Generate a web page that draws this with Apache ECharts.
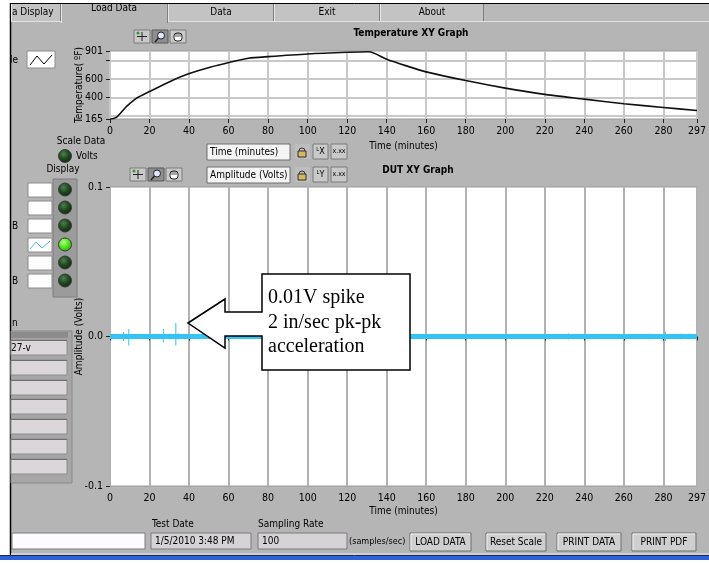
<!DOCTYPE html>
<html><head><meta charset="utf-8">
<script src="https://cdn.jsdelivr.net/npm/echarts@6/dist/echarts.min.js"></script>
<style>html,body{margin:0;padding:0;background:#fff}#c{width:709px;height:563px}</style>
</head><body><div id="c"></div>
<script>
// ---- data ----
const timeTickLabels = [0,20,40,60,80,100,120,140,160,180,200,220,240,260,280,297];
const tempTickLabels = [165,400,600,901];
const tempTickMarks = [165,400,600,800,901];
const tempGridValues = [200,400,600,800];
const ampTickLabels = [-0.1,0,0.1];

const tempTime  = [0,   3.4, 8.4, 13.5, 20,  32,  40.5, 50.6, 60.7, 70,  80,  100, 120, 131, 140, 150, 159.4, 180, 200, 219, 240, 260, 280, 297];
const tempValue = [163, 186, 301, 391,  462, 588, 660,  725,  779,  822, 840, 869, 887, 893, 812, 740, 678,   581, 499, 434, 380, 330, 290, 257];

const dutTime = [0, 297];
const dutAmp  = [0, 0];

const spikeTime = [1.6,    5.9,    6.8,    9.5,    11.7,   27,     30.4,   33.3,   34.5,   45,     232,    242,    252,    273,    281,    289,    293];
const spikeHigh = [0.0018, 0.002,  0.003,  0.005,  0.0018, 0.005,  0.002,  0.009,  0.0022, 0.0018, 0.002,  0.0018, 0.0018, 0.002,  0.0035, 0.002,  0.002];
const spikeLow  = [-0.0018,-0.002, -0.003, -0.006, -0.002, -0.004, -0.002, -0.006, -0.002, -0.0018,-0.002, -0.0018,-0.0018,-0.002, -0.003, -0.002, -0.002];

// ---- helpers ----
const FONT = '"Liberation Sans Narrow","DejaVu Sans Condensed",sans-serif';
const F10 = '10px ' + FONT;
const g = [];
function rect(x,y,w,h,fill,stroke,lw,z){ g.push({type:'rect',silent:true,z:z||0,shape:{x:x,y:y,width:w,height:h},style:{fill:fill,stroke:stroke||null,lineWidth:lw||0}}); }
function line(x1,y1,x2,y2,color,lw,z){ g.push({type:'line',silent:true,z:z||0,shape:{x1:x1,y1:y1,x2:x2,y2:y2},style:{stroke:color,lineWidth:lw||1}}); }
function text(x,y,t,opt){ opt=opt||{}; g.push({type:'text',silent:true,z:opt.z||1,x:x,y:y,style:{text:t,fill:opt.fill||'#000',font:opt.font||F10,align:opt.align||'left',verticalAlign:'middle',textAlign:opt.align||'left',textVerticalAlign:'middle'}}); }
function led(cx,cy,on){ g.push({type:'circle',silent:true,z:2,shape:{cx:cx,cy:cy,r:6.5},style:{stroke:'#3a3a3a',lineWidth:1,fill:{type:'radial',x:0.4,y:0.35,r:0.7,colorStops:on?[{offset:0,color:'#b8ff8c'},{offset:0.5,color:'#4fe81f'},{offset:1,color:'#2a9a10'}]:[{offset:0,color:'#4f7f4f'},{offset:0.5,color:'#1f4a1f'},{offset:1,color:'#0c240c'}]}}}); }
function poly(points,stroke,lw,z,fill){ g.push({type:fill?'polygon':'polyline',silent:true,z:z||1,shape:{points:points},style:{stroke:stroke,lineWidth:lw||1,fill:fill||null}}); }
function button(x,y,w,h,label){ rect(x,y,w,h,'#cfcfcf','#6e6e6e',1,1); line(x+1,y+1,x+w-1,y+1,'#f2f2f2',1,2); line(x+1,y+1,x+1,y+h-1,'#f2f2f2',1,2); text(x+w/2,y+h/2+0.5,label,{align:'center',z:3}); }
function palette(x,y){
  rect(x,y,16,13,'#c9c9c9','#7a7a7a',1,1); line(x+8,y+2,x+8,y+11,'#222',1,2); line(x+3,y+6.5,x+13,y+6.5,'#222',1,2); g.push({type:'circle',silent:true,z:3,shape:{cx:x+4,cy:y+3,r:1.5},style:{fill:'#2c9a2c'}});
  rect(x+18,y,16,13,'#8e8e8e','#5a5a5a',1,1); g.push({type:'circle',silent:true,z:3,shape:{cx:x+27,cy:y+5.5,r:3.5},style:{fill:'#dfe8ff',stroke:'#222',lineWidth:1}}); line(x+24.5,y+8,x+21,y+12,'#222',1.5,3);
  rect(x+36,y,16,13,'#c9c9c9','#7a7a7a',1,1); g.push({type:'rect',silent:true,z:3,shape:{x:x+40,y:y+3,width:8,height:8,r:3},style:{fill:'#fff',stroke:'#222',lineWidth:1}}); line(x+42,y+3,x+42,y+7,'#222',0.8,4); line(x+44,y+3,x+44,y+7,'#222',0.8,4); line(x+46,y+3,x+46,y+7,'#222',0.8,4);
}
function axisCtl(y,label){
  rect(207,y,83,16,'#f4f4f4','#6e6e6e',1,1); text(210,y+8.5,label,{z:3});
  rect(295,y,15,15,'#bdbdbd',null,0,1); g.push({type:'rect',silent:true,z:3,shape:{x:298,y:y+7,width:8,height:6},style:{fill:'#d8b85a',stroke:'#333',lineWidth:1}}); g.push({type:'arc',silent:true,z:3,shape:{cx:302,cy:y+7,r:3,startAngle:Math.PI,endAngle:2*Math.PI},style:{stroke:'#333',lineWidth:1,fill:null}});
  rect(313,y,15,15,'#c9c9c9','#7a7a7a',1,1); text(320.5,y+8,label.indexOf('Time')===0?'\u1d38X':'\u1d38Y',{align:'center',font:'9px '+FONT,z:3});
  rect(331,y,16,15,'#c9c9c9','#7a7a7a',1,1); text(339,y+7,'x.xx',{align:'center',font:'7px '+FONT,z:3});
}

// ---- frame & chrome ----
rect(0,0,709,3,'#ffffff'); line(0,3.5,709,3.5,'#000',1);
rect(0,0,10,563,'#ffffff'); line(10.5,3,10.5,555,'#000',1.5);
// tabs
rect(11,4,698,17,'#b9b9b9');
const tabs = [[11,61,'a Display'],[168,274,'Data'],[274,380,'Exit'],[380,484,'About']];
tabs.forEach(function(t){ rect(t[0],4,t[1]-t[0],17,'#c3c3c3'); line(t[0]+0.5,4,t[0]+0.5,21,'#e6e6e6',1); line(t[1]-0.5,4,t[1]-0.5,21,'#7f7f7f',1); text(t[0]===11?12:(t[0]+t[1])/2,12.5,t[2],{align:t[0]===11?'left':'center'}); });
line(11,21.5,709,21.5,'#e2e2e2',1);
rect(61,4,107,19,'#b5b5b5'); line(61.5,4,61.5,23,'#e6e6e6',1); line(167.5,4,167.5,23,'#7f7f7f',1); text(114,8,'Load Data',{align:'center'});
// bottom bars
rect(11,553,698,2,'#d0d0d0'); line(0,555.5,709,555.5,'#1b2a55',1); rect(0,556,709,4,'#2d62d8'); rect(0,560,709,3,'#ffffff');

// top graph decorations
palette(134,30);
text(411,33,'Temperature XY Graph',{align:'center',font:'bold 10px '+FONT});
text(10,60,'le');
rect(27,51,28,17,'#ffffff','#8a8a8a',1,1); poly([[30,65],[37,56],[44,64],[52,55]],'#000',1,2);

// scale data / display
text(81,141,'Scale Data',{align:'center'});
led(65,156,false); text(76,156,'Volts');
text(63,169,'Display',{align:'center'});
rect(53,179,24,118,'#9b9b9b','#7d7d7d',1,1);
const rowY = [183,201,219,238,256,274];
rowY.forEach(function(y,i){ rect(28,y,24,14,'#ffffff','#8a8a8a',1,1); led(65,y+6.5,i===3); });
poly([[30,rowY[3]+11],[36,rowY[3]+4],[42,rowY[3]+10],[50,rowY[3]+3]],'#4db8f0',1,3);
text(12,226,'B'); text(12,281,'B');

// list panel
text(12,323,'n');
rect(11,331,61,152,'#a6a6a6','#8a8a8a',1,1);
rect(11,332,57,6,'#8c8c8c',null,0,1);
[340,360,380,399,419,439,459].forEach(function(y,i){ rect(11,y,56,15,'#dad6da','#8c8c8c',1,2); line(11,y+0.5,67,y+0.5,'#6e6e6e',1,3); if(i===0) text(11,y+8,'27-v',{z:4}); });

// axis controls & bottom graph title
axisCtl(144,'Time (minutes)');
axisCtl(167,'Amplitude (Volts)');
palette(130,168);
text(418,170,'DUT XY Graph',{align:'center',font:'bold 10px '+FONT});

// bottom controls
rect(12,533,133,16,'#fdfbff','#7a7a7a',1,1);
text(152,524,'Test Date');
rect(151,533,100,16,'#d6d3d6','#7a7a7a',1,1); text(155,541,'1/5/2010 3:48 PM',{z:3});
text(258,524,'Sampling Rate');
rect(258,533,89,16,'#d6d3d6','#7a7a7a',1,1); text(262,541,'100',{z:3});
text(349,542,'(samples/sec)',{font:'9px '+FONT});
button(410,533,61,18,'LOAD DATA');
button(486,533,60,18,'Reset Scale');
button(557,533,64,18,'PRINT DATA');
button(632,533,64,18,'PRINT PDF');

// callout
poly([[188,323],[225,299],[225,312],[262,312],[262,274],[410,274],[410,370],[262,370],[262,336],[225,336],[225,348],[188,323]],'#000',1.5,100,'#ffffff');
const SERIF = '20px "Liberation Serif","Times New Roman",serif';
text(268,298,'0.01V spike',{font:SERIF,z:101});
text(268,323,'2 in/sec pk-pk',{font:SERIF,z:101});
text(268,347,'acceleration',{font:SERIF,z:101});

// ---- series data ----
const tempData = tempTime.map(function(t,i){ return [t, tempValue[i]]; });
const dutData = dutTime.map(function(t,i){ return [t, dutAmp[i]]; });
const spikeData = [];
spikeTime.forEach(function(t,i){ spikeData.push([t, spikeHigh[i]], [t, spikeLow[i]], [t, null]); });

const axisLabelStyle = {color:'#000', fontSize:10.5, fontFamily:FONT};
const axisNameStyle = {color:'#000', fontSize:10, fontFamily:FONT};
const CYAN = '#35c3f3';

function xAxisCfg(idx, gridColor){
  return {type:'value', gridIndex:idx, min:0, max:297, interval:20,
    name:'Time (minutes)', nameLocation:'middle', nameGap: idx===0?22:20, nameMoveOverlap:false, nameTextStyle:axisNameStyle,
    axisLine:{show:false},
    axisTick:{show:true, length:4, customValues:timeTickLabels, lineStyle:{color:'#222'}},
    axisLabel:Object.assign({margin:7, customValues:timeTickLabels, formatter:function(v){return String(v);}}, axisLabelStyle),
    splitLine:{show:true, lineStyle:{color:gridColor, width:2}}};
}

const option = {
  backgroundColor:'#b5b5b5',
  animation:false,
  grid:[
    {left:110, top:51, width:587, height:68, show:true, backgroundColor:'#ffffff', borderColor:'#9a9a9a', borderWidth:1},
    {left:110, top:187, width:587, height:299, show:true, backgroundColor:'#ffffff', borderColor:'#9a9a9a', borderWidth:1}
  ],
  xAxis:[ xAxisCfg(0,'#c8c8c8'), xAxisCfg(1,'#b2b2b2') ],
  yAxis:[
    {type:'value', gridIndex:0, min:165, max:901,
      name:'Temperature( ºF)', nameLocation:'middle', nameGap:26, nameMoveOverlap:false, nameTextStyle:axisNameStyle,
      axisLine:{show:false},
      axisTick:{show:true, length:4, customValues:tempTickMarks, lineStyle:{color:'#222'}},
      axisLabel:Object.assign({margin:7, customValues:tempTickLabels, formatter:function(v){return String(Math.round(v));}}, axisLabelStyle),
      splitLine:{show:false}},
    {type:'value', gridIndex:1, min:-0.1, max:0.1,
      name:'Amplitude (Volts)', nameLocation:'middle', nameGap:26, nameMoveOverlap:false, nameTextStyle:axisNameStyle,
      axisLine:{show:false},
      axisTick:{show:true, length:4, customValues:ampTickLabels, lineStyle:{color:'#222'}},
      axisLabel:Object.assign({margin:7, customValues:ampTickLabels, formatter:function(v){return v.toFixed(1);}}, axisLabelStyle),
      splitLine:{show:false}}
  ],
  series:[
    {type:'line', xAxisIndex:0, yAxisIndex:0, data:tempData, showSymbol:false, silent:true, z:1,
      lineStyle:{opacity:0}, itemStyle:{opacity:0},
      markLine:{silent:true, symbol:'none', label:{show:false}, animation:false,
        lineStyle:{color:'#c8c8c8', width:2, type:'solid'},
        data:tempGridValues.map(function(v){return {yAxis:v};})}},
    {type:'line', xAxisIndex:0, yAxisIndex:0, data:tempData, showSymbol:false, smooth:0.25, z:5,
      lineStyle:{color:'#111', width:1.6}},
    {type:'line', xAxisIndex:1, yAxisIndex:1, data:spikeData, showSymbol:false, z:4, connectNulls:false,
      lineStyle:{color:CYAN, width:1}},
    {type:'line', xAxisIndex:1, yAxisIndex:1, data:dutData, showSymbol:false, z:5,
      lineStyle:{color:CYAN, width:5}}
  ],
  graphic:{elements:g}
};
const chart = echarts.init(document.getElementById('c'), null, {renderer:'canvas'});
chart.setOption(option);
</script></body></html>
